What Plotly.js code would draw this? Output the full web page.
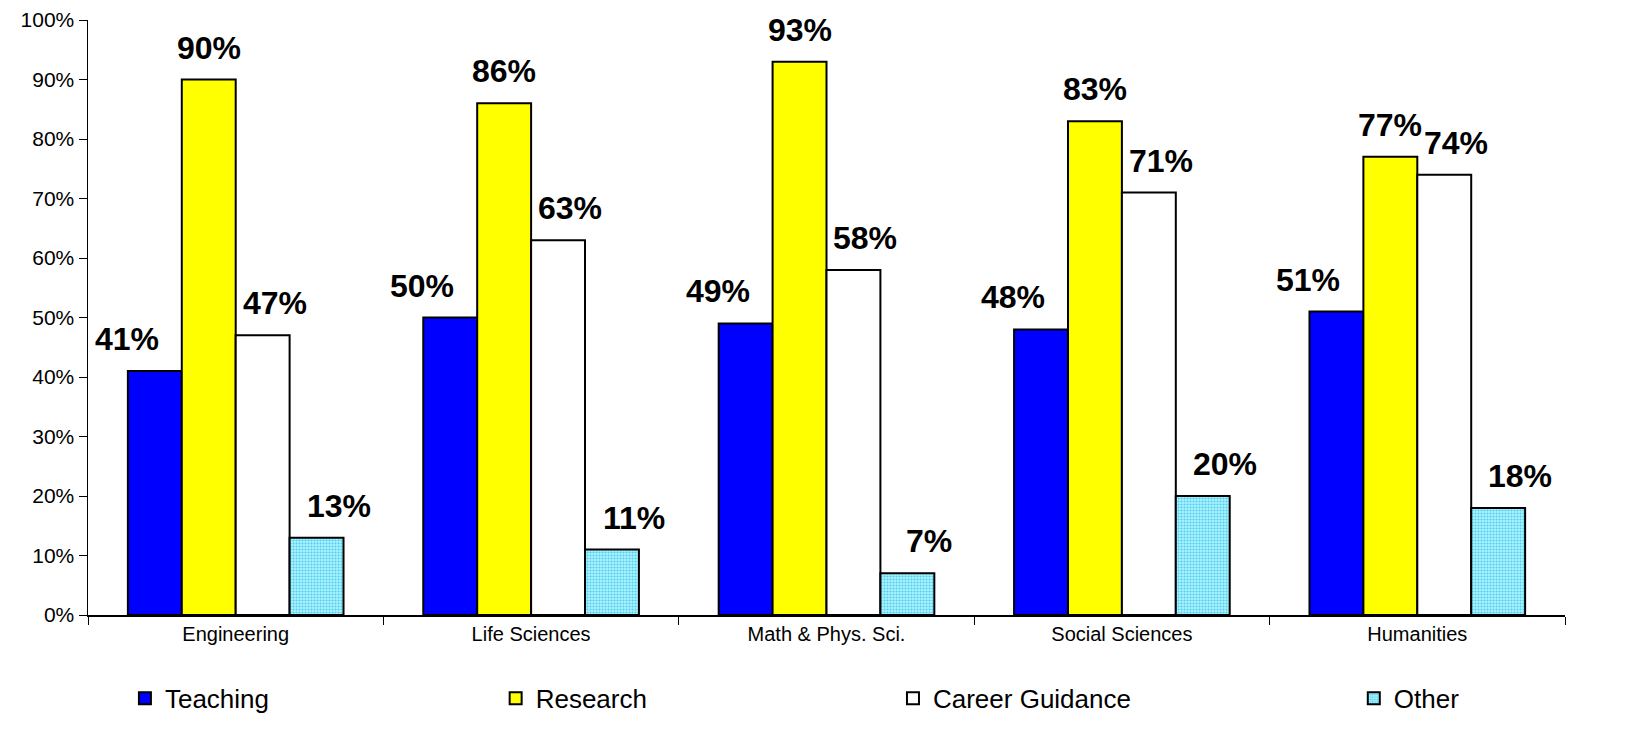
<!DOCTYPE html>
<html>
<head>
<meta charset="utf-8">
<script src="https://cdn.plot.ly/plotly-3.0.1.min.js"></script>
<style>html,body{margin:0;padding:0;background:#fff;overflow:hidden;}#chart{width:1646px;height:746px;}</style>
</head>
<body>
<div id="chart"></div>
<script>
const categories = ["Engineering", "Life Sciences", "Math & Phys. Sci.", "Social Sciences", "Humanities"];
const teaching = [41, 50, 49, 48, 51];
const research = [90, 86, 93, 83, 77];
const careerGuidance = [47, 63, 58, 71, 74];
const other = [13, 11, 7, 20, 18];
const seriesNames = ["Teaching", "Research", "Career Guidance", "Other"];
const yTickVals = [0, 10, 20, 30, 40, 50, 60, 70, 80, 90, 100];

const font = "Liberation Sans, Arial, sans-serif";
const W = 1646, H = 746;
const M = {l: 88, r: 81, t: 20, b: 131};
const bargap = 0.27;
const series = [teaching, research, careerGuidance, other];
const markers = [
  {color: "#0000ff"},
  {color: "#ffff00"},
  {color: "#ffffff"},
  {color: "#99eeff", pattern: {shape: ".", fgcolor: "#55ccee", bgcolor: "#aaf4ff", size: 3, solidity: 0.4}}
];
const legendIds = ["legend", "legend2", "legend3", "legend4"];
const legendX = [0.025, 0.276, 0.545, 0.857];
const labelShift = [-28, 0, 12, 22];

const data = series.map((vals, i) => ({
  type: "bar", name: seriesNames[i], x: categories, y: vals,
  marker: Object.assign({line: {color: "#000", width: 2}}, markers[i]),
  legend: legendIds[i], hoverinfo: "none"
}));

const plotW = W - M.l - M.r;
const groupW = plotW / categories.length;
const barW = groupW * (1 - bargap) / series.length;
const annotations = [];
series.forEach((vals, i) => {
  const off = (i - (series.length - 1) / 2) * barW;
  vals.forEach((v, j) => {
    annotations.push({
      x: categories[j], y: v, xref: "x", yref: "y",
      text: v + "%", showarrow: false, yanchor: "bottom",
      xshift: off + labelShift[i], yshift: 12,
      font: {family: font, size: 32, color: "#000", weight: "bold"}
    });
  });
});

const legendBase = {
  orientation: "h", y: -0.14, xanchor: "left", yanchor: "middle",
  font: {size: 26, family: font, color: "#000"}, bgcolor: "rgba(0,0,0,0)"
};
const layout = {
  width: W, height: H, margin: M,
  paper_bgcolor: "#fff", plot_bgcolor: "#fff",
  barmode: "group", bargap: bargap, bargroupgap: 0,
  font: {family: font, color: "#000"},
  xaxis: {
    showline: true, linecolor: "#000", linewidth: 1.5,
    ticks: "outside", tickson: "boundaries", ticklen: 8, tickcolor: "#000",
    tickfont: {size: 20, family: font}, showgrid: false
  },
  yaxis: {
    range: [0, 100], tickvals: yTickVals, ticktext: yTickVals.map(v => v + "%"),
    showline: true, linecolor: "#000", linewidth: 1.5,
    ticks: "outside", ticklen: 8, tickcolor: "#000",
    tickfont: {size: 21, family: font}, showgrid: false, zeroline: false
  },
  showlegend: true,
  annotations: annotations
};
legendIds.forEach((id, i) => { layout[id] = Object.assign({x: legendX[i]}, legendBase); });
Plotly.newPlot("chart", data, layout, {staticPlot: true});
</script>
</body>
</html>
